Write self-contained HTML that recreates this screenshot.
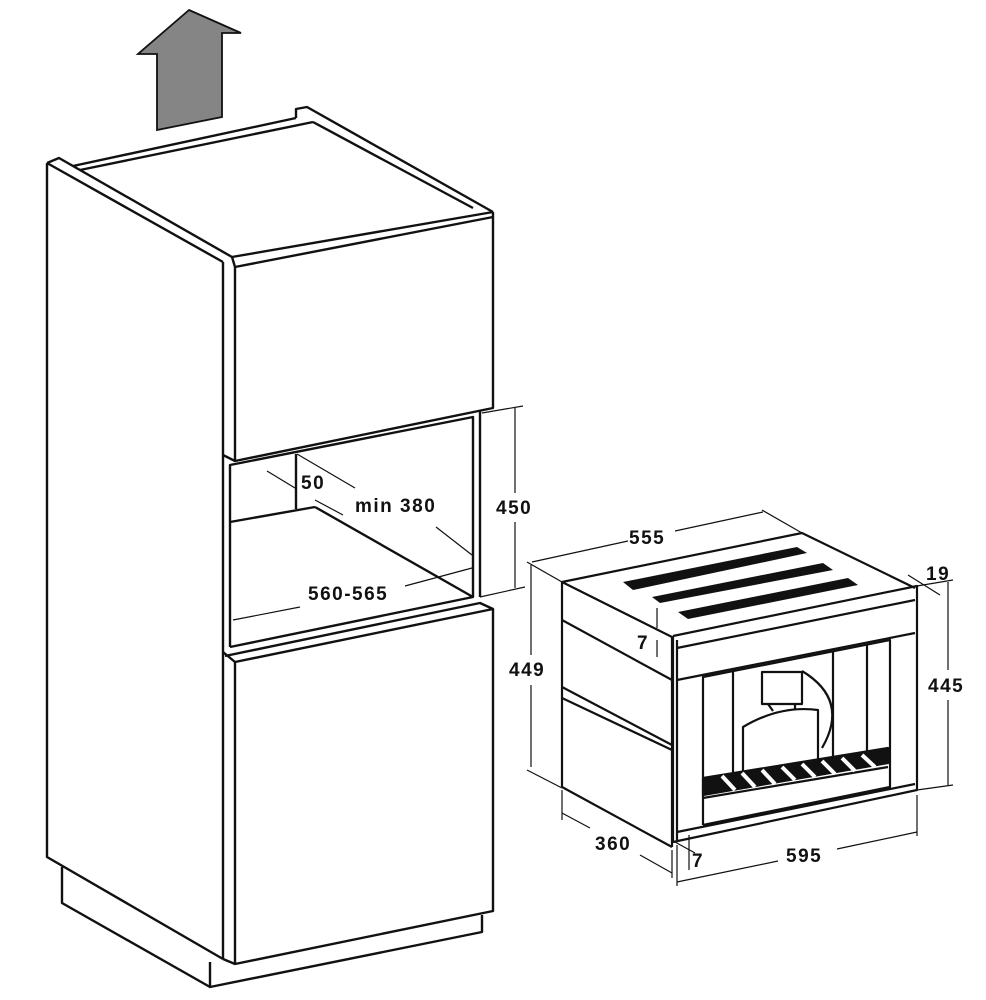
<!DOCTYPE html>
<html><head><meta charset="utf-8"><style>
html,body{margin:0;padding:0;background:#fff}
svg{display:block}
text{font-family:"Liberation Sans",sans-serif;font-weight:bold;font-size:19px;fill:#111;letter-spacing:1.5px}
</style></head><body>
<svg width="986" height="1000" viewBox="0 0 986 1000" xmlns="http://www.w3.org/2000/svg">
<g fill="none" stroke="#111" stroke-width="2.4" stroke-linejoin="round">
<polyline points="47,163 47,857 223,959"/>
<polyline points="47,163 59,158 232,257"/>
<line x1="47" y1="163" x2="223" y2="262"/>
<line x1="223" y1="262" x2="223" y2="959"/>
<line x1="232" y1="257" x2="235" y2="267"/>
<line x1="73" y1="166" x2="296" y2="118"/>
<line x1="80" y1="170" x2="313" y2="122"/>
<polyline points="296,118 296,109 307,107 493,212"/>
<line x1="313" y1="122" x2="473" y2="208"/>
<line x1="232" y1="257" x2="493" y2="212"/>
<line x1="235" y1="267" x2="493" y2="217"/>
<polyline points="235,267 235,461 493,408 493,212"/>
<line x1="223" y1="455" x2="235" y2="461"/>
<polyline points="230,647 230,465 473,417 473,597 230,647"/>
<polyline points="480,411 480,597"/>
<line x1="296" y1="454" x2="296" y2="509"/>
<line x1="230" y1="522" x2="315" y2="507"/>
<line x1="315" y1="507" x2="473" y2="597"/>
<polyline points="223,652 235,662 493,609 480,603 225,656"/>
<polyline points="235,662 235,964 493,911 493,609"/>
<line x1="223" y1="959" x2="235" y2="964"/>
<polyline points="62,867 62,903 210,987 482,932 482,915"/>
<line x1="210" y1="962" x2="210" y2="987"/>
</g>
<g fill="none" stroke="#111" stroke-width="1.2">
<line x1="297" y1="454" x2="355" y2="488"/><line x1="436" y1="527" x2="472" y2="555"/>
<line x1="267" y1="471" x2="295" y2="488"/><line x1="315" y1="500" x2="343" y2="515"/>
<line x1="233" y1="620" x2="300" y2="607"/><line x1="405" y1="586" x2="472" y2="568"/>
<line x1="515" y1="408" x2="515" y2="493"/><line x1="515" y1="522" x2="515" y2="588"/>
<line x1="482" y1="413" x2="523" y2="406"/><line x1="480" y1="597" x2="525" y2="587"/>
<line x1="531" y1="565" x2="531" y2="655"/><line x1="531" y1="685" x2="531" y2="767"/>
<line x1="527" y1="562" x2="562" y2="582"/><line x1="527" y1="770" x2="562" y2="788"/>
<line x1="532" y1="562" x2="628" y2="541"/><line x1="675" y1="531" x2="763" y2="512"/>
<line x1="762" y1="510" x2="802" y2="533"/>
<line x1="908" y1="575" x2="940" y2="595"/>
<line x1="948" y1="582" x2="948" y2="670"/><line x1="948" y1="700" x2="948" y2="785"/>
<line x1="917" y1="586" x2="953" y2="580"/><line x1="917" y1="790" x2="953" y2="785"/>
<line x1="657" y1="608" x2="657" y2="628"/><line x1="657" y1="640" x2="657" y2="657"/>
<line x1="562" y1="790" x2="562" y2="820"/><line x1="672" y1="850" x2="672" y2="878"/>
<line x1="562" y1="813" x2="590" y2="828"/><line x1="640" y1="855" x2="672" y2="873"/>
<line x1="677" y1="845" x2="677" y2="886"/><line x1="917" y1="795" x2="917" y2="836"/>
<line x1="677" y1="882" x2="778" y2="861"/><line x1="837" y1="849" x2="917" y2="832"/>
<line x1="689" y1="835" x2="689" y2="870"/><line x1="675" y1="842" x2="695" y2="853"/>
</g>
<g fill="none" stroke="#111" stroke-width="2.2" stroke-linejoin="round">
<polyline points="562,582 802,533 915,588"/>
<line x1="562" y1="582" x2="672" y2="637"/>
<line x1="562" y1="582" x2="562" y2="787"/>
<line x1="672" y1="637" x2="672" y2="847"/>
<line x1="562" y1="787" x2="672" y2="847"/>
<line x1="562" y1="620" x2="672" y2="680"/>
<line x1="562" y1="687" x2="672" y2="745"/>
<line x1="562" y1="698" x2="672" y2="750"/>
<polyline points="673,636 917,586 917,790 673,842 673,636"/>
<line x1="677" y1="640" x2="677" y2="840"/>
<line x1="677" y1="648" x2="915" y2="600"/>
<line x1="677" y1="680" x2="915" y2="633"/>
<line x1="677" y1="832" x2="915" y2="784"/>
<polyline points="703,825 703,677 890,640 890,787 703,825"/>
<line x1="733" y1="672" x2="733" y2="780"/>
<line x1="833" y1="652" x2="833" y2="760"/>
<line x1="867" y1="645" x2="867" y2="752"/>
<rect x="762" y="672" width="40" height="32" fill="#fff"/>
<line x1="768" y1="704" x2="773" y2="711"/><line x1="795" y1="704" x2="795" y2="710"/>
<path d="M743,776 L743,727 Q780,705 818,710 L818,770" fill="#fff"/>
<path d="M802,671 Q850,700 822,748"/>
<polygon points="703,778 888,748 888,763 703,795" fill="#111"/>
<line x1="703" y1="798" x2="888" y2="767"/>
</g>
<g stroke="#fff" stroke-width="4">
<line x1="722" y1="776" x2="735" y2="790"/><line x1="742" y1="773" x2="755" y2="787"/>
<line x1="762" y1="770" x2="775" y2="784"/><line x1="782" y1="767" x2="795" y2="780"/>
<line x1="802" y1="764" x2="815" y2="777"/><line x1="822" y1="761" x2="835" y2="774"/>
<line x1="842" y1="758" x2="855" y2="771"/><line x1="862" y1="755" x2="875" y2="767"/>
</g>
<g fill="#111">
<polygon points="623,582 797,547 807,553 633,590"/>
<polygon points="652,597 823,563 833,570 660,603"/>
<polygon points="678,612 848,578 858,585 688,619"/>
</g>
<polygon points="189,10 241,33 222,33 222,117 157,130 157,54 138,54" fill="#858585" stroke="#111" stroke-width="1.8"/>
<text x="301" y="489">50</text>
<text x="355" y="512">min 380</text>
<text x="308" y="600">560-565</text>
<text x="496" y="514">450</text>
<text x="509" y="676">449</text>
<text x="629" y="544">555</text>
<text x="926" y="580">19</text>
<text x="928" y="692">445</text>
<text x="637" y="649">7</text>
<text x="595" y="850">360</text>
<text x="692" y="867">7</text>
<text x="786" y="862">595</text>
</svg>
</body></html>
